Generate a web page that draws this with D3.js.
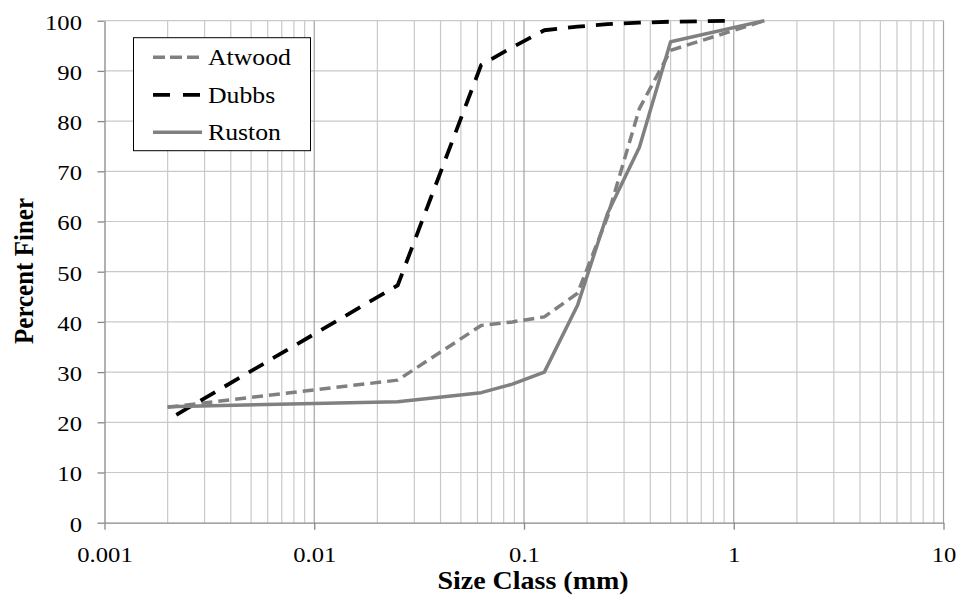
<!DOCTYPE html>
<html>
<head>
<meta charset="utf-8">
<script src="https://cdn.jsdelivr.net/npm/d3@7"></script>
<style>
  body { margin: 0; background: #fff; }
  text { font-family: "Liberation Serif", "Times New Roman", serif; fill: #000; }
</style>
</head>
<body>
<div id="chart"></div>
<script>
// sieve sizes (mm) and percent finer
const atwoodSize = [0.002, 0.025, 0.0625, 0.088, 0.125, 0.18, 0.25, 0.355, 0.5, 1.4];
const atwoodPct  = [23.0, 28.4, 39.3, 40.0, 41.0, 45.7, 60.9, 82.5, 94.1, 100];

const dubbsSize = [0.0022, 0.025, 0.0625, 0.088, 0.125, 0.18, 0.25, 0.355, 0.5, 1.0];
const dubbsPct  = [21.5, 47.3, 91.2, 94.7, 98.1, 98.8, 99.3, 99.6, 99.8, 100];

const rustonSize = [0.002, 0.025, 0.0625, 0.088, 0.125, 0.18, 0.25, 0.355, 0.5, 1.4];
const rustonPct  = [23.1, 24.1, 25.9, 27.6, 30.0, 43.3, 61.6, 74.8, 95.8, 100];

const xTicks = [0.001, 0.01, 0.1, 1, 10];
const xTickLabels = ["0.001", "0.01", "0.1", "1", "10"];
const yTicks = [0, 10, 20, 30, 40, 50, 60, 70, 80, 90, 100];

const seriesNames = ["Atwood", "Dubbs", "Ruston"];

const width = 958, height = 602;
const margin = {top: 20.7, right: 14.5, bottom: 79.3, left: 104.5};
const sx = 1.12; // the picture is a bit wider than tall, text too

const series = [
  {name: seriesNames[0], size: atwoodSize, pct: atwoodPct, color: "#808080", dash: "11,6", w: 3.5},
  {name: seriesNames[1], size: dubbsSize, pct: dubbsPct, color: "#000000", dash: "17,11", w: 3.8},
  {name: seriesNames[2], size: rustonSize, pct: rustonPct, color: "#808080", dash: null, w: 3.5}
];

const svg = d3.select("#chart").append("svg")
  .attr("width", width).attr("height", height);

const x = d3.scaleLog().domain([0.001, 10]).range([margin.left, width - margin.right]);
const y = d3.scaleLinear().domain([0, 100]).range([height - margin.bottom, margin.top]);

// gridlines
const grid = svg.append("g");
grid.selectAll(".hgrid").data(yTicks.filter(d => d > 0)).enter().append("line")
  .attr("x1", x.range()[0]).attr("x2", x.range()[1])
  .attr("y1", d => y(d)).attr("y2", d => y(d))
  .attr("stroke", "#c9c9c9").attr("stroke-width", 1.2);

grid.selectAll(".vgrid").data(x.ticks().filter(d => d > 0.001)).enter().append("line")
  .attr("x1", d => x(d)).attr("x2", d => x(d))
  .attr("y1", y(0)).attr("y2", y(100))
  .attr("stroke", d => Math.abs(Math.log10(d) - Math.round(Math.log10(d))) < 1e-6 ? "#a3a3a3" : "#c9c9c9")
  .attr("stroke-width", 1.2);

// axes
const xAxis = svg.append("g").attr("transform", `translate(0,${y(0)})`)
  .call(d3.axisBottom(x).tickValues(xTicks).tickFormat((d, i) => xTickLabels[i]).tickSize(7).tickSizeOuter(0));
const yAxis = svg.append("g").attr("transform", `translate(${x.range()[0]},0)`)
  .call(d3.axisLeft(y).tickValues(yTicks).tickSize(7).tickSizeOuter(0));

[xAxis, yAxis].forEach(a => {
  a.select(".domain").attr("stroke", "#878787").attr("stroke-width", 1.3);
  a.selectAll(".tick line").attr("stroke", "#878787").attr("stroke-width", 1.3);
  a.selectAll(".tick text").attr("font-size", 22).attr("font-family", "Liberation Serif")
    .attr("fill", "#000").attr("transform", `scale(${sx},1)`);
});
xAxis.selectAll(".tick text").attr("y", 39).attr("dy", null);
yAxis.selectAll(".tick text").attr("x", -22.5 / sx).attr("dy", "0.38em");

// series lines
const line = d3.line().x(d => x(d[0])).y(d => y(d[1]));
svg.append("g").selectAll("path").data(series).enter().append("path")
  .attr("d", s => line(d3.zip(s.size, s.pct)))
  .attr("fill", "none")
  .attr("stroke", s => s.color)
  .attr("stroke-width", s => s.w)
  .attr("stroke-dasharray", s => s.dash)
  .attr("stroke-linejoin", "round");

// legend
const legend = svg.append("g");
legend.append("rect")
  .attr("x", 133.5).attr("y", 37.7).attr("width", 177).attr("height", 113)
  .attr("fill", "#fff").attr("stroke", "#000").attr("stroke-width", 1);

const rows = legend.selectAll(".row").data(series).enter().append("g")
  .attr("transform", (d, i) => `translate(0,${57.3 + i * 37.5})`);
rows.append("line")
  .attr("x1", 153).attr("x2", 202).attr("y1", 0).attr("y2", 0)
  .attr("stroke", d => d.color).attr("stroke-width", d => d.w)
  .attr("stroke-dasharray", d => d.dash ? (d.name === "Dubbs" ? "17,13" : "12,5") : null);
rows.append("text")
  .attr("transform", `translate(208,7.8) scale(${sx},1)`)
  .attr("font-size", 23)
  .text(d => d.name);

// axis titles
svg.append("text")
  .attr("transform", `translate(533,589) scale(${sx},1)`)
  .attr("text-anchor", "middle").attr("font-size", 25).attr("font-weight", "bold")
  .text("Size Class (mm)");

svg.append("text")
  .attr("transform", `translate(33,271) scale(${sx},1) rotate(-90)`)
  .attr("text-anchor", "middle").attr("font-size", 25).attr("font-weight", "bold")
  .text("Percent Finer");
</script>
</body>
</html>
